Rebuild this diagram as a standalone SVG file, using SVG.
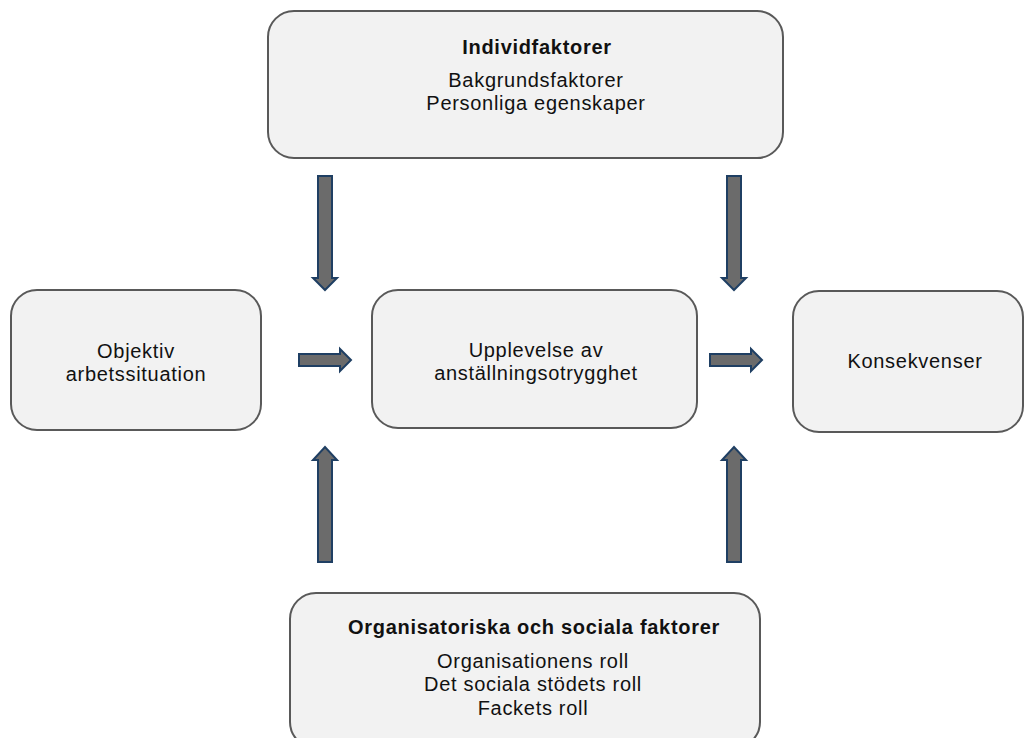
<svg xmlns="http://www.w3.org/2000/svg" width="1026" height="738" viewBox="0 0 1026 738">
<defs>
<style>
.box{fill:#f2f2f2;stroke:#595959;stroke-width:2}
.t{font-family:"Liberation Sans",Arial,sans-serif;font-size:20px;letter-spacing:0.7px;fill:#111;text-anchor:middle}
.b{font-weight:bold}
.arr{fill:#6b6b6b;stroke:#1f3f63;stroke-width:2;stroke-linejoin:miter}
</style>
</defs>
<rect width="1026" height="738" fill="#ffffff"/>
<g id="individfaktorer">
<rect class="box" x="268" y="11" width="515" height="147" rx="26"/>
<text class="t b" x="537" y="54">Individfaktorer</text>
<text class="t" x="536" y="87">Bakgrundsfaktorer</text>
<text class="t" x="536" y="110">Personliga egenskaper</text>
</g>
<g id="objektiv">
<rect class="box" x="11" y="290" width="250" height="140" rx="26"/>
<text class="t" x="136" y="358">Objektiv</text>
<text class="t" x="136" y="381">arbetssituation</text>
</g>
<g id="upplevelse">
<rect class="box" x="372" y="290" width="325" height="138" rx="26"/>
<text class="t" x="536" y="357">Upplevelse av</text>
<text class="t" x="536" y="380">anställningsotrygghet</text>
</g>
<g id="konsekvenser">
<rect class="box" x="793" y="291" width="230" height="141" rx="26"/>
<text class="t" x="915" y="368">Konsekvenser</text>
</g>
<g id="organisatoriska">
<rect class="box" x="290" y="593" width="470" height="155" rx="26"/>
<text class="t b" x="534" y="634">Organisatoriska och sociala faktorer</text>
<text class="t" x="533" y="668">Organisationens roll</text>
<text class="t" x="533" y="691">Det sociala stödets roll</text>
<text class="t" x="533" y="715">Fackets roll</text>
</g>
<g id="connectors">
<path class="arr" d="M318,176 H332 V278 H337 L325,290 L313,278 H318 Z"/>
<path class="arr" d="M727,176 H741 V278 H746 L734,290 L722,278 H727 Z"/>
<path class="arr" d="M318,562 H332 V460 H337 L325,447 L313,460 H318 Z"/>
<path class="arr" d="M727,562 H741 V460 H746 L734,447 L722,460 H727 Z"/>
<path class="arr" d="M299,354 H340 V349 L351,360 L340,371 V366 H299 Z"/>
<path class="arr" d="M710,354 H751 V349 L762,360 L751,371 V366 H710 Z"/>
</g>
</svg>
